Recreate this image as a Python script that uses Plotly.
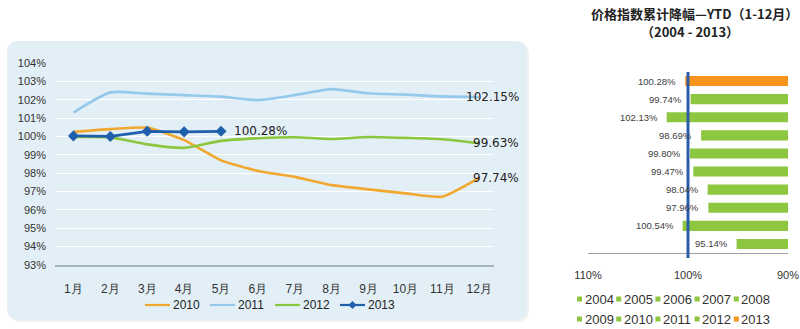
import plotly.graph_objects as go

# ---------------- data ----------------
months = ["1月", "2月", "3月", "4月", "5月", "6月", "7月", "8月", "9月", "10月", "11月", "12月"]
s2010 = [100.25, 100.40, 100.48, 99.80, 98.70, 98.12, 97.80, 97.35, 97.12, 96.90, 96.72, 97.74]
s2011 = [101.30, 102.40, 102.33, 102.25, 102.17, 101.98, 102.25, 102.58, 102.35, 102.28, 102.18, 102.15]
s2012 = [99.97, 99.95, 99.57, 99.38, 99.76, 99.90, 99.96, 99.86, 99.97, 99.92, 99.85, 99.63]
s2013 = [100.03, 100.00, 100.28, 100.25, 100.28]
y_ticks = [93, 94, 95, 96, 97, 98, 99, 100, 101, 102, 103, 104]
line_names = ["2010", "2011", "2012", "2013"]

years = ["2004", "2005", "2006", "2007", "2008", "2009", "2010", "2011", "2012", "2013"]
ytd = [95.14, 100.54, 97.96, 98.04, 99.47, 99.80, 98.69, 102.13, 99.74, 100.28]
bar_ticks = [110, 100, 90]

# ---------------- styles ----------------
C2010, C2011, C2012, C2013 = "#f0a830", "#94c9ec", "#8cc63f", "#1f5fab"
line_colors = [C2010, C2011, C2012, C2013]
GREEN, ORANGE = "#8dc63f", "#f7941d"
W, H = 800, 329


def px(x):
    return x / W


def py(y):
    return 1 - y / H


fig = go.Figure()

fig.add_trace(go.Scatter(x=months, y=s2010, name="2010", mode="lines", showlegend=False,
                         line=dict(color=C2010, width=2.6, shape="spline", smoothing=0.5)))
fig.add_trace(go.Scatter(x=months, y=s2011, name="2011", mode="lines", showlegend=False,
                         line=dict(color=C2011, width=2.6, shape="spline", smoothing=0.6)))
fig.add_trace(go.Scatter(x=months, y=s2012, name="2012", mode="lines", showlegend=False,
                         line=dict(color=C2012, width=2.6, shape="spline", smoothing=0.6)))
fig.add_trace(go.Scatter(x=months[:len(s2013)], y=s2013, name="2013", mode="lines+markers",
                         showlegend=False, line=dict(color=C2013, width=2.8),
                         marker=dict(symbol="diamond", size=8.5, color=C2013)))

bar_colors = [ORANGE if y == "2013" else GREEN for y in years]
fig.add_trace(go.Bar(y=years, x=[v - 90 for v in ytd], base=90, orientation="h",
                     marker=dict(color=bar_colors, line=dict(width=0)), width=0.56,
                     xaxis="x2", yaxis="y2", showlegend=False, hoverinfo="skip"))

annotations = []
# end labels on line chart
for s in (s2011, s2012, s2010):
    annotations.append(dict(x=len(s) - 1, y=s[-1], xref="x", yref="y", text=f"{s[-1]:.2f}%",
                            showarrow=False, xanchor="right", yanchor="middle", xshift=42,
                            font=dict(family="DejaVu Sans", size=12, color="#222")))
annotations.append(dict(x=len(s2013) - 1, y=s2013[-1], xref="x", yref="y", text=f"{s2013[-1]:.2f}%",
                        showarrow=False, xanchor="left", yanchor="middle", xshift=11,
                        font=dict(family="DejaVu Sans", size=12, color="#222")))
# bar labels (category index on y2)
for i, v in enumerate(ytd):
    annotations.append(dict(x=v, y=i, xref="x2", yref="y2", text=f"{v:.2f}%",
                            showarrow=False, xanchor="right", yanchor="middle", xshift=-7,
                            font=dict(family="Liberation Sans, Arial", size=9.5, color="#404040")))
# right title
annotations.append(dict(x=px(694), y=py(14), xref="paper", yref="paper",
                        xanchor="center", yanchor="middle",
                        text="<b>价格指数累计降幅—YTD（1-12月）</b>", showarrow=False,
                        font=dict(family="Noto Sans CJK SC", size=13, color="#222")))
annotations.append(dict(x=px(690), y=py(31), xref="paper", yref="paper",
                        xanchor="center", yanchor="middle",
                        text="<b>（2004 - 2013）</b>", showarrow=False,
                        font=dict(family="Noto Sans CJK SC", size=13, color="#222")))

# rounded panel behind left chart
x0, x1, y0, y1, r = 7, 527, 41, 320, 12


def P(x, y):
    return f"{px(x):.5f},{py(y):.5f}"


def rounded(x0, y0, x1, y1, r):
    return (f"M{P(x0 + r, y0)} L{P(x1 - r, y0)} Q{P(x1, y0)} {P(x1, y0 + r)} "
            f"L{P(x1, y1 - r)} Q{P(x1, y1)} {P(x1 - r, y1)} L{P(x0 + r, y1)} "
            f"Q{P(x0, y1)} {P(x0, y1 - r)} L{P(x0, y0 + r)} Q{P(x0, y0)} {P(x0 + r, y0)} Z")


shapes = [
    dict(type="path", xref="paper", yref="paper", path=rounded(x0 + 2, y0 + 2, x1 + 2, y1 + 2, r),
         fillcolor="rgba(0,0,0,0.05)", line=dict(width=0), layer="below"),
    dict(type="path", xref="paper", yref="paper", path=rounded(x0, y0, x1, y1, r),
         fillcolor="#e3eff6", line=dict(width=0), layer="below"),
    dict(type="line", xref="x2", yref="paper", x0=100, x1=100, y0=py(258), y1=py(72),
         line=dict(color="#2a5caa", width=3), layer="above"),
]

# left legend (line samples + labels)
for k, (nm, colr) in enumerate(zip(line_names, line_colors)):
    lx = 145 + k * 65
    ly = 305
    shapes.append(dict(type="line", xref="paper", yref="paper", x0=px(lx), x1=px(lx + 25),
                       y0=py(ly), y1=py(ly), line=dict(color=colr, width=2.2)))
    if nm == "2013":
        cx, d = lx + 12.5, 4
        shapes.append(dict(type="path", xref="paper", yref="paper",
                           path=f"M{P(cx, ly - d)} L{P(cx + d, ly)} L{P(cx, ly + d)} L{P(cx - d, ly)} Z",
                           fillcolor=colr, line=dict(width=0)))
    annotations.append(dict(x=px(lx + 26), y=py(ly), xref="paper", yref="paper",
                            xanchor="left", yanchor="middle", text=nm, showarrow=False,
                            font=dict(family="Liberation Sans, Arial", size=12, color="#222")))

# right legend (two rows of five) built from squares + text
for k, yr in enumerate(years):
    row, col = divmod(k, 5)
    cx = 577 + col * 39.2
    cy = 299 + row * 20
    colr = ORANGE if yr == "2013" else GREEN
    shapes.append(dict(type="rect", xref="paper", yref="paper",
                       x0=px(cx), x1=px(cx + 5), y0=py(cy + 2.5), y1=py(cy - 2.5),
                       fillcolor=colr, line=dict(width=0)))
    annotations.append(dict(x=px(cx + 5.5), y=py(cy), xref="paper", yref="paper",
                            xanchor="left", yanchor="middle", text=yr, showarrow=False,
                            font=dict(family="Liberation Sans, Arial", size=13, color="#333")))

fig.update_layout(
    width=W, height=H,
    margin=dict(l=0, r=0, t=0, b=0, autoexpand=False),
    paper_bgcolor="white", plot_bgcolor="rgba(0,0,0,0)",
    font=dict(family="Liberation Sans, Arial", color="#333"),
    shapes=shapes, annotations=annotations,
    showlegend=False,
    xaxis=dict(domain=[px(55), px(494)], anchor="y", type="category", range=[-0.5, 11.4],
               showgrid=False, showline=True, linecolor="#a3b3bf", linewidth=1.5,
               zeroline=False, ticks="", tickfont=dict(size=12, color="#333"),
               ticklabelstandoff=12, automargin=False),
    yaxis=dict(domain=[py(265), py(63)], anchor="x", range=[93, 104], tickvals=y_ticks,
               ticktext=[f"{t}%" for t in y_ticks], showgrid=True, gridcolor="white",
               gridwidth=1, zeroline=False, showline=False, ticks="",
               tickfont=dict(size=11, color="#333"), ticklabelstandoff=8, automargin=False),
    xaxis2=dict(domain=[px(588), px(788)], anchor="y2", range=[110, 90], tickvals=bar_ticks,
                ticktext=[f"{t}%" for t in bar_ticks], showgrid=False, zeroline=False,
                showline=True, linecolor="#a0a0a0", linewidth=1, ticks="inside", ticklen=5,
                tickcolor="#a0a0a0", tickfont=dict(size=11, color="#333"), ticklabelstandoff=12,
                automargin=False),
    yaxis2=dict(domain=[py(253), py(72)], anchor="x2", type="category", categoryorder="array",
                categoryarray=years, range=[-0.5, 9.5], showticklabels=False, showgrid=False,
                zeroline=False, showline=False, ticks="", automargin=False),
    barmode="overlay",
)

fig.write_html("out.html")
